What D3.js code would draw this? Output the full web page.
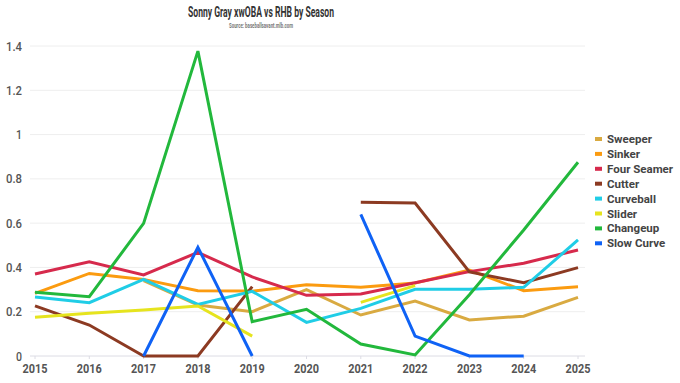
<!DOCTYPE html>
<html>
<head>
<meta charset="utf-8">
<script src="https://cdn.jsdelivr.net/npm/d3@7"></script>
<style>
  html, body { margin: 0; padding: 0; background: #fff; }
  svg { display: block; }
  text { font-family: Roboto, "Liberation Sans", sans-serif; }
</style>
</head>
<body>
<svg id="chart" width="680" height="383"></svg>
<script>
const years = [2015, 2016, 2017, 2018, 2019, 2020, 2021, 2022, 2023, 2024, 2025];
const yTicks = [0, 0.2, 0.4, 0.6, 0.8, 1, 1.2, 1.4];
const seriesNames = ["Sweeper", "Sinker", "Four Seamer", "Cutter", "Curveball", "Slider", "Changeup", "Slow Curve"];
const seriesColors = ["#d9aa41", "#fb9b10", "#d62a4c", "#8c3a22", "#20cde6", "#e6e41e", "#22b83c", "#0f62f5"];

const sweeper    = [null, null, 0.34, 0.23, 0.20, 0.30, 0.185, 0.248, 0.163, 0.18, 0.265];
const sinker     = [0.283, 0.373, 0.346, 0.295, 0.293, 0.322, 0.31, 0.33, 0.388, 0.295, 0.313];
const fourSeamer = [0.37, 0.425, 0.366, 0.468, 0.357, 0.274, 0.28, 0.331, 0.381, 0.419, 0.479];
const cutter     = [0.226, 0.14, 0, 0, 0.313, null, 0.694, 0.691, 0.38, 0.331, 0.399];
const curveball  = [0.266, 0.241, 0.346, 0.233, 0.292, 0.152, 0.215, 0.301, 0.301, 0.31, 0.524];
const slider     = [0.175, 0.193, 0.208, 0.226, 0.09, null, 0.242, 0.318, null, null, null];
const changeup   = [0.288, 0.268, 0.599, 1.377, 0.155, 0.211, 0.054, 0.005, 0.277, 0.569, 0.875];
const slowCurve  = [null, null, 0, 0.491, 0, null, 0.64, 0.09, 0, 0, null];

const seriesValues = [sweeper, sinker, fourSeamer, cutter, curveball, slider, changeup, slowCurve];

const svg = d3.select("#chart");
const x = d3.scaleLinear().domain([2015, 2025]).range([35, 578]);
const y = d3.scaleLinear().domain([0, 1.4]).range([356, 46]);

// Title
svg.append("text").attr("x", 261).attr("y", 17).attr("text-anchor", "middle")
  .attr("font-size", 14).attr("font-weight", 700).attr("fill", "#333")
  .attr("textLength", 146).attr("lengthAdjust", "spacingAndGlyphs")
  .text("Sonny Gray xwOBA vs RHB by Season");
svg.append("text").attr("x", 261).attr("y", 28).attr("text-anchor", "middle")
  .attr("font-size", 6.5).attr("font-weight", 700).attr("fill", "#777")
  .attr("textLength", 64).attr("lengthAdjust", "spacingAndGlyphs")
  .text("Source: baseballsavant.mlb.com");

// Gridlines
const grid = svg.append("g");
grid.selectAll("line").data(yTicks).join("line")
  .attr("x1", 30).attr("x2", 585)
  .attr("y1", d => y(d)).attr("y2", d => y(d))
  .attr("stroke", d => d === 0 ? "#dcdce4" : "#eeeeee")
  .attr("stroke-width", 1);

// Y labels
svg.append("g").selectAll("text").data(yTicks).join("text")
  .attr("x", 22).attr("y", d => y(d) + 4.5)
  .attr("text-anchor", "end")
  .attr("font-size", 13).attr("font-weight", 500).attr("fill", "#555")
  .attr("textLength", d => String(d).length * 6 - (String(d).includes(".") ? 2 : 0))
  .attr("lengthAdjust", "spacingAndGlyphs")
  .text(d => String(d));

// X ticks and labels
const xg = svg.append("g");
xg.selectAll("line").data(years).join("line")
  .attr("x1", d => x(d)).attr("x2", d => x(d))
  .attr("y1", 356).attr("y2", 359)
  .attr("stroke", "#dcdce4");
xg.selectAll("text").data(years).join("text")
  .attr("x", d => x(d)).attr("y", 373)
  .attr("text-anchor", "middle")
  .attr("font-size", 13).attr("font-weight", 700).attr("fill", "#555")
  .attr("textLength", 25).attr("lengthAdjust", "spacingAndGlyphs")
  .text(d => d);

// Lines
const line = d3.line()
  .defined(d => d.v !== null)
  .x(d => x(d.year))
  .y(d => y(d.v));

const lines = svg.append("g");
seriesNames.forEach((name, i) => {
  const data = years.map((yr, j) => ({ year: yr, v: seriesValues[i][j] }));
  lines.append("path")
    .datum(data)
    .attr("d", line)
    .attr("fill", "none")
    .attr("stroke", seriesColors[i])
    .attr("stroke-width", 3)
    .attr("stroke-linejoin", "miter")
    .attr("stroke-linecap", "butt");
});

// Legend
const legend = svg.append("g");
seriesNames.forEach((name, i) => {
  const cy = 139 + i * 14.9;
  legend.append("rect").attr("x", 595).attr("y", cy - 2).attr("width", 7).attr("height", 4)
    .attr("fill", seriesColors[i]);
  legend.append("text").attr("x", 607).attr("y", cy + 4)
    .attr("font-size", 11.5).attr("font-weight", 700).attr("fill", "#444")
    .text(name);
});
</script>
</body>
</html>
